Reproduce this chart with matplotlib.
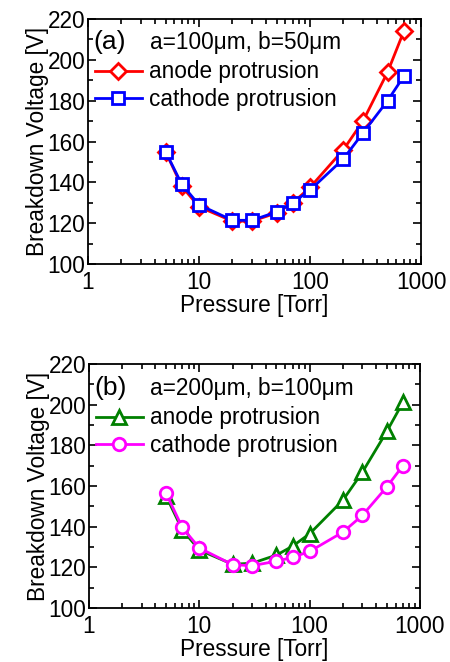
import matplotlib
matplotlib.use("Agg")
import matplotlib.pyplot as plt
from matplotlib.ticker import FixedLocator, FuncFormatter, LogLocator, MultipleLocator, NullFormatter

plt.rcParams['font.family'] = ['Liberation Sans', 'DejaVu Sans']

pressure = [5, 7, 10, 20, 30, 50, 70, 100, 200, 300, 500, 700]
a_anode = [155, 138, 128, 121, 121, 125, 130, 137.5, 156, 170, 194, 214]
a_cathode = [155, 139, 129, 121.4, 121.4, 125.5, 130, 136.2, 151.5, 164.2, 180, 192]
b_anode = [155, 138.5, 128.5, 121.5, 122, 126, 130.4, 136.5, 153, 166.7, 186.8, 201.1]
b_cathode = [156.4, 139.6, 129.5, 121.3, 120.8, 123, 124.9, 127.8, 137.3, 145.5, 159.5, 170]

panels = [
    dict(label='(a)', params='a=100μm, b=50μm', series=[
        (a_anode, 'anode protrusion', '#FF0000', 'D'),
        (a_cathode, 'cathode protrusion', '#0000FF', 's')]),
    dict(label='(b)', params='a=200μm, b=100μm', series=[
        (b_anode, 'anode protrusion', '#008000', '^'),
        (b_cathode, 'cathode protrusion', '#FF00FF', 'o')]),
]

fig = plt.figure(figsize=(4.5, 6.62), dpi=100)
rects = [[0.1956, 0.6012, 0.74, 0.3701], [0.1978, 0.0816, 0.7355, 0.3686]]
fs = 16.3

for i, (rect, p) in enumerate(zip(rects, panels)):
    ax = fig.add_axes(rect)
    for vals, lab, col, mk in p['series']:
        ms = {'D': 8, 's': 8.5, '^': 9.5, 'o': 9}[mk]
        ax.plot(pressure, vals, color=col, lw=2.0, marker=mk, ms=ms,
                mfc='white', mec=col, mew=2.0, label=lab)
    ax.set_xscale('log')
    ax.set_xlim(1, 1000)
    ax.set_ylim(100, 220)
    ax.xaxis.set_major_locator(FixedLocator([1, 10, 100, 1000]))
    ax.xaxis.set_major_formatter(FuncFormatter(lambda v, pos: '%g' % v))
    ax.xaxis.set_minor_locator(LogLocator(base=10, subs=range(2, 10)))
    ax.xaxis.set_minor_formatter(NullFormatter())
    ax.yaxis.set_major_locator(MultipleLocator(20))
    ax.yaxis.set_minor_locator(MultipleLocator(10))
    ax.tick_params(which='both', direction='in', top=True, right=True, labelsize=fs, width=1.2)
    ax.tick_params(which='major', length=6)
    ax.tick_params(which='minor', length=3.5)
    ax.tick_params(axis='x', pad=5)
    ax.tick_params(axis='y', pad=2)
    for s in ax.spines.values():
        s.set_linewidth(1.3)
    ax.set_xlabel('Pressure [Torr]', fontsize=fs, labelpad=0)
    ax.set_ylabel('Breakdown Voltage [V]', fontsize=fs, labelpad=-1)
    ty = 0.905 if i == 0 else 0.9
    ax.text(0.015, ty, p['label'], transform=ax.transAxes, fontsize=19, va='center', ha='left')
    ax.text(0.185, ty, p['params'], transform=ax.transAxes, fontsize=fs, va='center', ha='left')
    ly = 0.84 if i == 0 else 0.835
    ax.legend(loc='upper left', bbox_to_anchor=(0.013, ly), frameon=False, fontsize=fs,
              handlelength=2.1, handletextpad=0.3, labelspacing=0.2, borderaxespad=0.0,
              borderpad=0.1)

fig.savefig('out.png', dpi=100)
